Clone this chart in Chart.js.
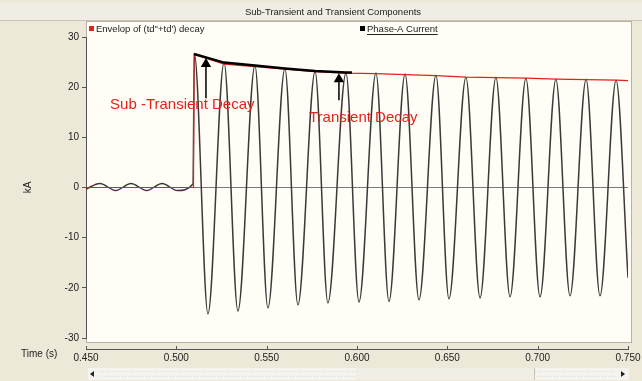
<!DOCTYPE html>
<html>
<head>
<meta charset="utf-8">
<title>Sub-Transient and Transient Components</title>
<script src="https://cdn.jsdelivr.net/npm/chart.js@4.4.0/dist/chart.umd.min.js"></script>
<style>
  html, body { margin: 0; padding: 0; background: #ECE9D8; }
  #wrap { width: 642px; height: 381px; }
</style>
</head>
<body>
<div id="wrap"><canvas id="waveChart" width="642" height="381"></canvas></div>
<script>
// values (time in s, current in kA)
// phase-A current: peaks and troughs of each half cycle
var waveTime = [0.4500, 0.4577, 0.4664, 0.4749, 0.4836, 0.4921, 0.5006, 0.5092,
                0.5100, 0.5175, 0.5264, 0.5341, 0.5435, 0.5507, 0.5601, 0.5673,
                0.5768, 0.5839, 0.5939, 0.6011, 0.6105, 0.6177, 0.6266, 0.6343,
                0.6437, 0.6509, 0.6603, 0.6681, 0.6769, 0.6847, 0.6935, 0.7013,
                0.7101, 0.7179, 0.7268, 0.7345, 0.7434, 0.7500];
var waveKA   = [-0.3, 0.8, -0.6, 0.8, -0.6, 0.8, -0.6, 0.7,
                26.6, -25.2, 24.9, -24.6, 24.3, -24.0, 23.7, -23.4,
                23.1, -23.0, 22.8, -22.8, 22.8, -22.7, 22.6, -22.4,
                22.4, -22.2, 22.0, -22.0, 22.0, -21.8, 21.8, -21.8,
                21.6, -21.6, 21.6, -21.6, 21.4, -18.0];

// envelope of (td"+td') decay
var envTime = [0.4500, 0.5095, 0.5098, 0.5264, 0.5435, 0.5601, 0.5768, 0.5939,
               0.6105, 0.6266, 0.6437, 0.6603, 0.6769, 0.6935, 0.7101, 0.7268,
               0.7434, 0.7500];
var envKA   = [0, 0, 26.6, 24.6, 24.1, 23.6, 23.1, 22.8,
               22.7, 22.5, 22.3, 22.0, 21.9, 21.8, 21.6, 21.5,
               21.4, 21.3];

// hand drawn sub-transient tangent (black, thick)
var traceTime = [0.5098, 0.5264, 0.5435, 0.5601, 0.5768, 0.5939, 0.5972];
var traceKA   = [26.6, 24.9, 24.3, 23.7, 23.2, 22.9, 22.9];

// arrows
var arrowTime   = [0.5164, 0.5900];
var arrowTipKA  = [24.6, 21.6];
var arrowTailKA = [17.8, 17.4];

var notes = [
  { text: 'Sub -Transient Decay', t: 0.4633, kA: 16.4 },
  { text: 'Transient Decay', t: 0.5734, kA: 13.85 }
];

var legendItems = [
  { text: 'Envelop of (td"+td\') decay', color: '#E3231B', x: 89, underline: false },
  { text: 'Phase-A Current', color: '#000000', x: 360, underline: true }
];

var uiFont = '"Liberation Sans", Arial, sans-serif';

function pts(xs, ys) {
  return xs.map(function(x, i) { return { x: x, y: ys[i] }; });
}

var stemPts = [];
arrowTime.forEach(function(t, i) {
  stemPts.push({ x: t, y: arrowTailKA[i] });
  stemPts.push({ x: t, y: arrowTipKA[i] });
  stemPts.push({ x: t, y: null });
});

var chromePlugin = {
  id: 'chrome',
  beforeDraw: function(chart) {
    var c = chart.ctx;
    c.save();
    c.fillStyle = '#ECE9D8';
    c.fillRect(0, 0, chart.width, chart.height);
    // title band
    c.fillStyle = '#EFEDE4';
    c.fillRect(0, 3, chart.width, 18);
    c.strokeStyle = '#C9C5B5';
    c.lineWidth = 1;
    c.beginPath(); c.moveTo(0, 20.5); c.lineTo(chart.width, 20.5); c.stroke();
    c.fillStyle = '#222';
    c.font = '9.5px ' + uiFont;
    c.textAlign = 'center';
    c.textBaseline = 'middle';
    c.fillText('Sub-Transient and Transient Components', 333, 12);
    // plot panel
    c.fillStyle = '#FFFDF5';
    c.fillRect(86, 22, 545, 321);
    c.strokeStyle = '#B5B2A6';
    c.strokeRect(86.5, 21.5, 545, 321);
    // legend
    c.textAlign = 'left';
    legendItems.forEach(function(it) {
      c.fillStyle = it.color;
      c.fillRect(it.x, 26, 5, 5);
      c.fillStyle = '#222';
      c.fillText(it.text, it.x + 7, 29);
      if (it.underline) {
        var w = c.measureText(it.text).width;
        c.fillRect(it.x + 7, 34, w, 1);
      }
    });
    c.restore();
  },
  afterDatasetsDraw: function(chart) {
    var c = chart.ctx, xs = chart.scales.x, ys = chart.scales.y;
    c.save();
    c.fillStyle = '#E3231B';
    c.font = '15px ' + uiFont;
    c.textAlign = 'left';
    c.textBaseline = 'middle';
    notes.forEach(function(n) {
      c.fillText(n.text, xs.getPixelForValue(n.t), ys.getPixelForValue(n.kA));
    });
    c.restore();
  },
  afterDraw: function(chart) {
    var c = chart.ctx, xs = chart.scales.x;
    c.save();
    // detached time axis
    c.strokeStyle = '#555';
    c.lineWidth = 1;
    c.beginPath();
    c.moveTo(xs.left, 349.5); c.lineTo(xs.right, 349.5);
    xs.ticks.forEach(function(tk) {
      var px = Math.round(xs.getPixelForValue(tk.value)) + 0.5;
      c.moveTo(px, 346); c.lineTo(px, 350);
    });
    c.stroke();
    c.fillStyle = '#222';
    c.font = '10px ' + uiFont;
    c.textBaseline = 'middle';
    c.fillText('Time (s)', 21, 354);
    // scroll bar
    c.fillStyle = '#F4F3EE';
    c.fillRect(88, 368, 541, 12);
    c.fillStyle = '#DCDACE';
    for (var x = 100; x < 614; x += 3) {
      if (x > 356 && x < 534) continue;
      c.fillRect(x, 371, 1, 1);
      c.fillRect(x + 1, 376, 1, 1);
    }
    c.fillStyle = '#F0EEE5';
    c.fillRect(356, 368, 178, 12);
    c.fillStyle = '#C8C5B8';
    c.fillRect(534, 368, 1, 12);
    c.fillStyle = '#222';
    c.beginPath(); c.moveTo(90, 374); c.lineTo(94, 371); c.lineTo(94, 377); c.fill();
    c.beginPath(); c.moveTo(625, 374); c.lineTo(621, 371); c.lineTo(621, 377); c.fill();
    c.restore();
  }
};

var ctxW = document.getElementById('waveChart').getContext('2d');
var waveChart = new Chart(ctxW, {
  type: 'line',
  data: {
    datasets: [
      {
        label: 'arrow heads',
        data: pts(arrowTime, arrowTipKA),
        showLine: false,
        pointStyle: 'triangle',
        pointRadius: 6,
        backgroundColor: '#000',
        borderColor: '#000',
        borderWidth: 0,
        order: 0
      },
      {
        label: 'arrow stems',
        data: stemPts,
        borderColor: '#000',
        borderWidth: 1.5,
        pointRadius: 0,
        spanGaps: false,
        order: 1
      },
      {
        label: 'tangent',
        data: pts(traceTime, traceKA),
        borderColor: '#000',
        borderWidth: 2.5,
        pointRadius: 0,
        order: 2
      },
      {
        label: 'Envelop of (td"+td\') decay',
        data: pts(envTime, envKA),
        borderColor: '#E3231B',
        borderWidth: 1.2,
        pointRadius: 0,
        order: 3
      },
      {
        label: 'Phase-A Current',
        data: pts(waveTime, waveKA),
        borderColor: '#3a3a3a',
        borderWidth: 1.5,
        pointRadius: 0,
        cubicInterpolationMode: 'monotone',
        order: 4
      }
    ]
  },
  options: {
    responsive: false,
    animation: false,
    events: [],
    layout: { padding: { left: 0, right: 14, top: 37, bottom: 0 } },
    plugins: { legend: { display: false }, title: { display: false }, tooltip: { enabled: false } },
    scales: {
      x: {
        type: 'linear',
        min: 0.45,
        max: 0.75,
        ticks: {
          stepSize: 0.05,
          autoSkip: false,
          maxRotation: 0,
          padding: 14,
          color: '#222',
          font: { family: uiFont, size: 10 },
          callback: function(v) { return v.toFixed(3); }
        },
        grid: { display: false, drawTicks: false },
        border: { display: false },
        afterFit: function(s) {
          s.height = 43;
          s.paddingLeft = 0;
          s.paddingRight = 0;
        }
      },
      y: {
        min: -30,
        max: 30,
        ticks: {
          stepSize: 10,
          padding: 3,
          color: '#222',
          font: { family: uiFont, size: 10 }
        },
        grid: {
          color: function(ctx) { return ctx.tick && ctx.tick.value === 0 ? '#7A7A7A' : 'rgba(0,0,0,0)'; },
          tickColor: '#555',
          tickLength: 4
        },
        border: { display: true, color: '#555' },
        title: {
          display: true,
          text: 'kA',
          color: '#222',
          font: { family: uiFont, size: 10 },
          padding: { top: 22, bottom: 0 }
        },
        afterFit: function(s) { s.width = 86; }
      }
    }
  },
  plugins: [chromePlugin]
});
</script>
</body>
</html>
